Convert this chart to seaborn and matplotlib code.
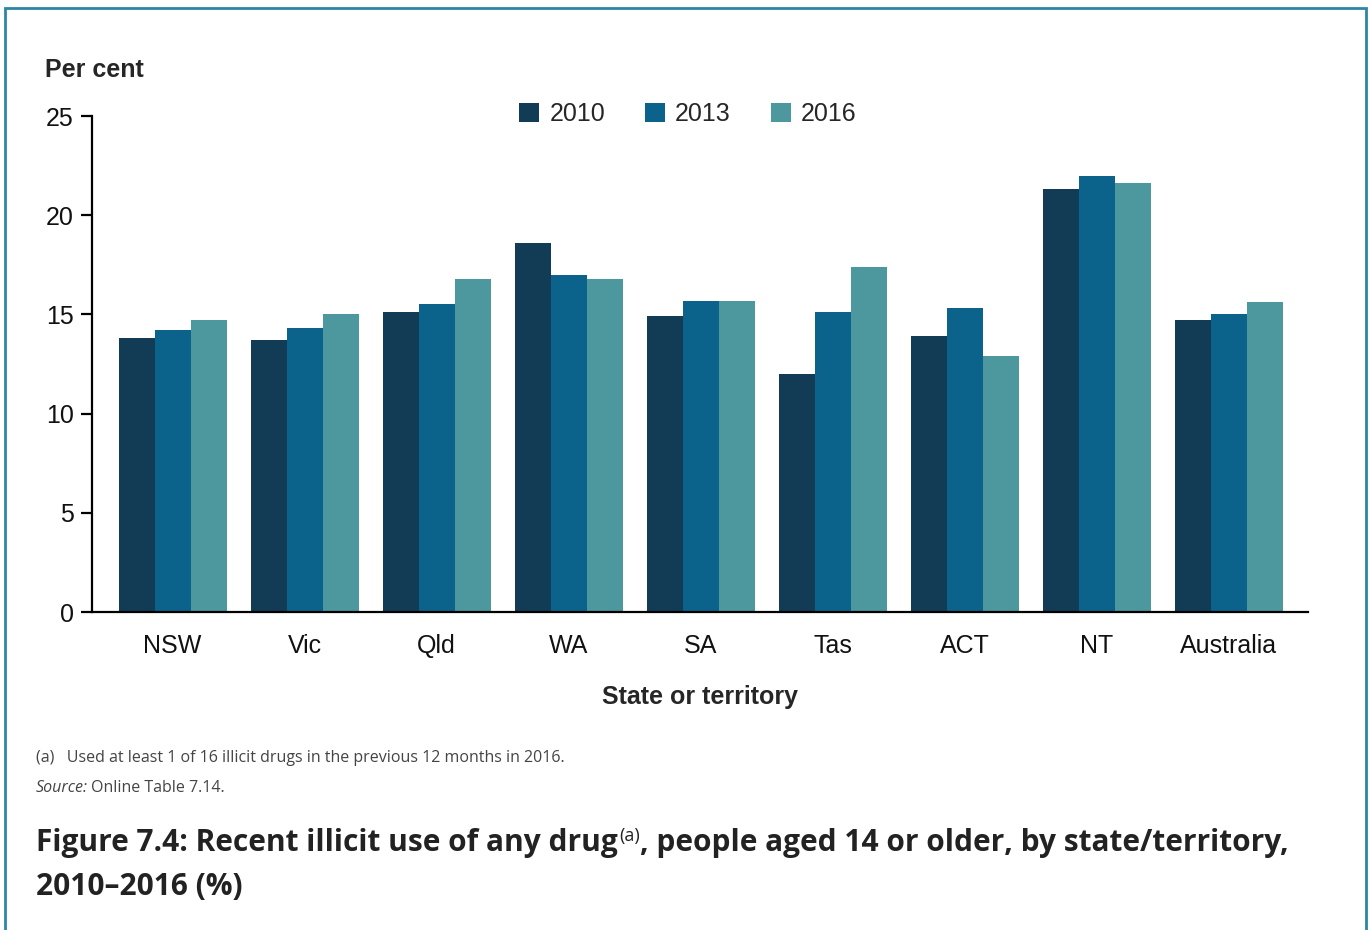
import pandas as pd
import numpy as np
import matplotlib
matplotlib.use('Agg')
import matplotlib.pyplot as plt
import seaborn as sns
from matplotlib.patches import Rectangle

# data
states = ['NSW', 'Vic', 'Qld', 'WA', 'SA', 'Tas', 'ACT', 'NT', 'Australia']
years = ['2010', '2013', '2016']
v2010 = [13.8, 13.7, 15.1, 18.6, 14.9, 12.0, 13.9, 21.3, 14.7]
v2013 = [14.2, 14.3, 15.5, 17.0, 15.7, 15.1, 15.3, 22.0, 15.0]
v2016 = [14.7, 15.0, 16.8, 16.8, 15.7, 17.4, 12.9, 21.6, 15.6]
colors = ['#123B55', '#0B628A', '#4C989E']

df = pd.DataFrame({'state': states * 3,
                   'year': [y for y in years for _ in states],
                   'value': v2010 + v2013 + v2016})

sns.set_theme(style='white')
plt.rcParams['font.family'] = ['Liberation Sans', 'DejaVu Sans']

fig = plt.figure(figsize=(13.72, 9.30), dpi=100)
ax = fig.add_axes([92/1372, 1-612/930, (1308-92)/1372, (612-116)/930])

sns.barplot(data=df, x='state', y='value', hue='year', palette=colors,
            saturation=1, width=0.818, linewidth=0, ax=ax)

fs = 18
ax.set_ylim(0, 25)
ax.set_xlim(-0.61, 8.6)
ax.set_yticks([0, 5, 10, 15, 20, 25])
sns.despine(ax=ax, top=True, right=True)
for s in ['left', 'bottom']:
    ax.spines[s].set_color('black')
    ax.spines[s].set_linewidth(1.6)
ax.tick_params(axis='y', which='major', left=True, length=8, width=1.6,
               color='black', labelsize=fs, pad=5, labelcolor='#111111')
ax.tick_params(axis='x', bottom=False, labelsize=fs, pad=9.5, labelcolor='#111111')
ax.set_xlabel('State or territory', fontsize=fs, fontweight='bold', labelpad=20)
ax.set_ylabel('')
ax.grid(False)

fig.text(45/1372, 1-70/930, 'Per cent', fontsize=fs, fontweight='bold',
         va='center', ha='left')

handles, labels = ax.get_legend_handles_labels()
leg = ax.legend(handles, labels, loc='center', bbox_to_anchor=(688/1372, 1-114/930),
                bbox_transform=fig.transFigure, ncol=3, frameon=False,
                fontsize=fs, handlelength=0.8, handleheight=0.8,
                handletextpad=0.4, columnspacing=1.6)

# footnotes
fig.text(36/1372, 1-758/930, '(a)   Used at least 1 of 16 illicit drugs in the previous 12 months in 2016.',
         fontsize=11.5, color='#444444', family='Open Sans', va='center')
t1 = fig.text(36/1372, 1-788/930, 'Source:', fontsize=11.5, color='#444444',
              family='Open Sans', style='italic', va='center')
fig.canvas.draw()
r = fig.canvas.get_renderer()
bb = t1.get_window_extent(r)
fig.text((bb.x1 + 3)/1372, 1-788/930, 'Online Table 7.14.', fontsize=11.5,
         color='#444444', family='Open Sans', va='center')

# title with superscript
tsize = 21.5
p1 = fig.text(36/1372, 1-843/930, 'Figure 7.4: Recent illicit use of any drug',
              fontsize=tsize, fontweight='bold', color='#222222',
              family='Open Sans', va='center')
bb = p1.get_window_extent(r)
p2 = fig.text((bb.x1 + 1)/1372, 1-836/930, '(a)', fontsize=13, color='#222222',
              family='Open Sans', va='center')
bb2 = p2.get_window_extent(r)
fig.text((bb2.x1 + 1)/1372, 1-843/930, ', people aged 14 or older, by state/territory,',
         fontsize=tsize, fontweight='bold', color='#222222', family='Open Sans', va='center')
fig.text(36/1372, 1-887/930, '2010\u20132016 (%)', fontsize=tsize, fontweight='bold',
         color='#222222', family='Open Sans', va='center')

# frame around the figure
fig.patches.append(Rectangle((5/1372, -0.05), (1366-5)/1372, 1.05-8/930,
                             transform=fig.transFigure, fill=False,
                             edgecolor='#2C86A3', linewidth=2))

fig.savefig('out.png', dpi=100)
